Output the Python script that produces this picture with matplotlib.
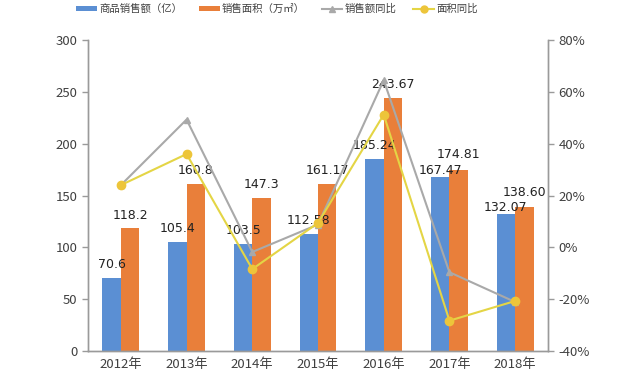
import numpy as np
import matplotlib
matplotlib.use("Agg")
import matplotlib.pyplot as plt
from matplotlib.lines import Line2D
from matplotlib.patches import Patch

plt.rcParams['font.family'] = ['Noto Sans CJK SC', 'DejaVu Sans']

# ---------------------------
# Data
# ---------------------------
years = ["2012年", "2013年", "2014年", "2015年", "2016年", "2017年", "2018年"]
sales = [70.6, 105.4, 103.5, 112.58, 185.24, 167.47, 132.07]
area = [118.2, 160.8, 147.3, 161.17, 243.67, 174.81, 138.60]
sales_labels = ["70.6", "105.4", "103.5", "112.58", "185.24", "167.47", "132.07"]
area_labels = ["118.2", "160.8", "147.3", "161.17", "243.67", "174.81", "138.60"]
sales_yoy = [24.0, 49.3, -1.8, 8.8, 64.5, -9.6, -21.1]   # %
area_yoy = [24.0, 36.0, -8.4, 9.4, 51.2, -28.3, -20.7]   # %

c_blue = "#5B8FD3"
c_orange = "#E97F3A"
c_gray = "#A9A9A9"
c_yellow = "#E4D545"
c_ymark = "#EDC53A"
c_axis = "#9A9A9A"
c_text = "#404040"

# label offsets (points) so close pairs don't collide
blue_off = [5, 5, 5, 5, 5, 0, 0]
orange_off = [5, 5, 5, 5, 5, 6, 6]

fig = plt.figure(figsize=(6.19, 3.75), dpi=100)
ax = fig.add_axes([88 / 619, 1 - 351 / 375, 460 / 619, 311 / 375])
ax2 = ax.twinx()

x = np.arange(len(years))
w = 0.28
b1 = ax.bar(x - w / 2, sales, w, color=c_blue, zorder=2)
b2 = ax.bar(x + w / 2, area, w, color=c_orange, zorder=2)

for bars, labels, offs in ((b1, sales_labels, blue_off), (b2, area_labels, orange_off)):
    for rect, lab, dy in zip(bars, labels, offs):
        ax.annotate(lab, (rect.get_x() + rect.get_width() / 2, rect.get_height()),
                    xytext=(0, dy), textcoords="offset points", ha="center", va="bottom",
                    fontsize=9, color="#222222", family="DejaVu Sans", zorder=5)

ax2.plot(x, sales_yoy, color=c_gray, lw=1.5, marker="^", ms=4,
         markerfacecolor=c_gray, markeredgecolor=c_gray, zorder=3)
ax2.plot(x, area_yoy, color=c_yellow, lw=1.5, marker="o", ms=6,
         markerfacecolor=c_ymark, markeredgecolor=c_ymark, zorder=4)

ax.set_xlim(-0.5, len(years) - 0.5)
ax.set_ylim(0, 300)
ax.set_yticks(np.arange(0, 301, 50))
ax2.set_ylim(-40, 80)
ax2.set_yticks(np.arange(-40, 81, 20))
ax2.set_yticklabels([f"{v}%" for v in range(-40, 81, 20)])
ax.set_xticks(x)
ax.set_xticklabels(years)

for a in (ax, ax2):
    a.spines["top"].set_visible(False)
    for s in ("left", "right", "bottom"):
        a.spines[s].set_color(c_axis)
        a.spines[s].set_linewidth(1.0)
    a.tick_params(axis="y", colors=c_axis, labelcolor=c_text, labelsize=9.5, length=4, width=1)
ax.tick_params(axis="x", length=0, labelsize=9.5, labelcolor=c_text, pad=5)
# lines above bars
ax.set_zorder(0)
ax2.set_zorder(1)
ax2.patch.set_visible(False)

handles = [
    Patch(facecolor=c_blue, label="商品销售额（亿）"),
    Patch(facecolor=c_orange, label="销售面积（万㎡）"),
    Line2D([0], [0], color=c_gray, lw=1.5, marker="^", ms=4, label="销售额同比"),
    Line2D([0], [0], color=c_yellow, lw=1.5, marker="o", ms=5,
           markerfacecolor=c_ymark, markeredgecolor=c_ymark, label="面积同比"),
]
fig.legend(handles=handles, loc="center", bbox_to_anchor=(277 / 619, 1 - 9 / 375),
           ncol=4, frameon=False, fontsize=7.5, handlelength=2.0, handleheight=0.35,
           columnspacing=1.6, handletextpad=0.2, labelcolor=c_text)

fig.savefig("out.png", dpi=100)
